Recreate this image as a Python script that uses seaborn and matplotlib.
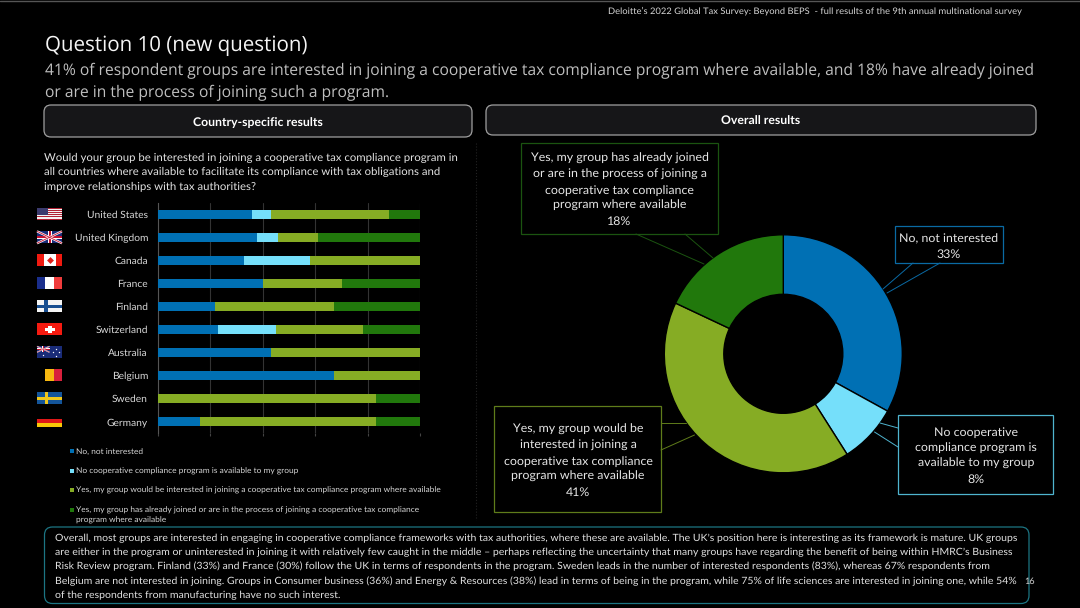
import matplotlib
matplotlib.use("Agg")
import matplotlib.pyplot as plt
from matplotlib.patches import FancyBboxPatch, Rectangle
import numpy as np
import seaborn as sns

countries = ["United States", "United Kingdom", "Canada", "France", "Finland",
             "Switzerland", "Australia", "Belgium", "Sweden", "Germany"]
not_interested = [36, 38, 33, 40, 22, 23, 43, 67, 0, 16]
no_program = [7, 8, 25, 0, 0, 22, 0, 0, 0, 0]
would_join = [45, 15, 42, 30, 45, 33, 57, 33, 83, 67]
already_joined = [12, 39, 0, 30, 33, 22, 0, 0, 17, 17]

overall_values = [33, 8, 41, 18]
series_colors = ["#0070B4", "#75DFFA", "#86AC24", "#21780C"]
legend_labels = [
    "No, not interested",
    "No cooperative compliance program is available to my group",
    "Yes, my group would be interested in joining a cooperative tax compliance program where available",
    "Yes, my group has already joined or are in the process of joining a cooperative tax compliance\nprogram where available",
]

body_lines = [
    "Overall, most groups are interested in engaging in cooperative compliance frameworks with tax authorities, where these are available. The UK\u2019s position here is interesting as its framework is mature. UK groups",
    "are either in the program or uninterested in joining it with relatively few caught in the middle \u2013 perhaps reflecting the uncertainty that many groups have regarding the benefit of being within HMRC\u2019s Business",
    "Risk Review program. Finland (33%) and France (30%) follow the UK in terms of respondents in the program. Sweden leads in the number of interested respondents (83%), whereas 67% respondents from",
    "Belgium are not interested in joining. Groups in Consumer business (36%) and Energy & Resources (38%) lead in terms of being in the program, while 75% of life sciences are interested in joining one, while 54%",
    "of the respondents from manufacturing have no such interest.",
]

W, H = 1080, 608
FONT = "Lato"

sns.set_theme(style="dark")
plt.rcParams["font.family"] = [FONT, "DejaVu Sans"]
# unhinted text, so widths follow the font size smoothly
plt.rcParams["text.hinting"] = "no_hinting"
fig = plt.figure(figsize=(W / 100, H / 100), dpi=100, facecolor="black")


def axes_px(x0, y0, x1, y1):
    return fig.add_axes([x0 / W, 1 - y1 / H, (x1 - x0) / W, (y1 - y0) / H])


# --- stacked bars ---
ax = axes_px(157.7, 203, 420.3, 433)
ax.set_facecolor("black")
left = np.zeros(len(countries))
for vals, col in zip([not_interested, no_program, would_join, already_joined], series_colors):
    sns.barplot(x=vals, y=countries, left=left, color=col, width=0.4, orient="h",
                saturation=1, linewidth=0, ax=ax, zorder=3)
    left = left + np.array(vals)
ax.set_xlim(0, 100)
ax.set_ylim(9.5, -0.5)
ax.set_xticks([0, 20, 40, 60, 80, 100])
ax.set_xticklabels([])
ax.set_xlabel("")
ax.set_ylabel("")
ax.grid(axis="x", color="#333333", lw=0.8, zorder=0)
ax.grid(axis="y", visible=False)
ax.tick_params(axis="x", length=2.5, width=0.8, color="#444444", bottom=True)
ax.tick_params(axis="y", length=0, pad=7, labelsize=7.35, labelcolor="#D8D8D8")
sns.despine(ax=ax, top=True, right=True, bottom=True)
ax.spines["left"].set_color("#555555")
ax.spines["left"].set_linewidth(0.8)

# --- donut ---
pie_ax = axes_px(783.3 - 119, 353.8 - 119, 783.3 + 119, 353.8 + 119)
pie_ax.pie(overall_values, colors=series_colors, startangle=90, counterclock=False, radius=1,
           wedgeprops=dict(width=0.5, edgecolor="black", linewidth=1))
pie_ax.set_xlim(-1, 1)
pie_ax.set_ylim(-1, 1)

# --- everything else in pixel coordinates ---
ov = fig.add_axes([0, 0, 1, 1], facecolor="none")
ov.set_xlim(0, W)
ov.set_ylim(H, 0)
ov.axis("off")


def txt(x, y, s, size, color="#E6E6E6", ha="left", va="center", **kw):
    ov.text(x, y, s, fontsize=size, color=color, ha=ha, va=va, **kw)


def rounded(x0, y0, x1, y1, r, fc, ec, lw=0.9):
    ov.add_patch(FancyBboxPatch((x0 + r, y0 + r), x1 - x0 - 2 * r, y1 - y0 - 2 * r,
                                boxstyle=f"round,pad={r},rounding_size={r}",
                                fc=fc, ec=ec, lw=lw))


ov.plot([0, W], [0.5, 0.5], color="#555555", lw=1)
txt(1022, 10.5, "Deloitte\u2019s 2022 Global Tax Survey: Beyond BEPS  - full results of the 9th annual multinational survey",
    6.72, ha="right", color="#D5D5D5")
txt(45, 46, "Question 10 (new question)", 14.8, color="#F5F5F5", family="Open Sans")
txt(45, 71, "41% of respondent groups are interested in joining a cooperative tax compliance program where available, and 18% have already joined",
    11.29, color="#BFBFBF", family="Open Sans")
txt(45, 92.5, "or are in the process of joining such a program.", 11.29, color="#BFBFBF", family="Open Sans")

rounded(44, 105, 472, 137, 7, "#161618", "#A0A0A0")
rounded(486, 105, 1036, 135, 7, "#161618", "#A0A0A0")
txt(258, 122.5, "Country-specific results", 8.85, color="white", ha="center", fontweight="bold")
txt(761, 121.5, "Overall results", 8.85, color="white", ha="center", fontweight="bold")

for y, s in zip([157.5, 172, 186.5], [
    "Would your group be interested in joining a cooperative tax compliance program in",
    "all countries where available to facilitate its compliance with tax obligations and",
    "improve relationships with tax authorities?",
]):
    txt(44, y, s, 8.22, color="#E2E2E2")

ov.plot([476, 476], [143, 520], color="#222222", lw=0.8, ls=":")

# legend
for y, col, lab in zip([451, 470.7, 490.3, 510], series_colors, legend_labels):
    ov.add_patch(Rectangle((70, y - 2.2), 4.3, 4.3, fc=col, ec="none"))
    ov.text(76.5, y - 3.3, lab, fontsize=6.05, color="#D5D5D5", ha="left", va="top", linespacing=1.4)


# flags
def flag(row, name):
    x, y0, w, h = 37, 214.3 + 23 * row - 6, 25, 12

    def r(a, b, c, d, col):
        ov.add_patch(Rectangle((x + a * w, y0 + b * h), c * w, d * h, fc=col, ec="none"))

    if name == "us":
        r(0, 0, 1, 1, "#F4F4F4")
        for i in range(0, 7):
            r(0, i * 2 / 13, 1, 1 / 13, "#B22234")
        r(0, 0, .42, 7 / 13, "#3C3B6E")
    elif name in ("uk", "au"):
        r(0, 0, 1, 1, "#1A2C78")
        fx, fy, fw, fh = (0, 0, 1, 1) if name == "uk" else (0, 0, .5, .5)
        px = lambda a: x + (fx + a * fw) * w
        py = lambda b: y0 + (fy + b * fh) * h
        ov.plot([px(0), px(1)], [py(0), py(1)], color="white", lw=1.6 * fw, solid_capstyle="butt")
        ov.plot([px(0), px(1)], [py(1), py(0)], color="white", lw=1.6 * fw, solid_capstyle="butt")
        ov.plot([px(0), px(1)], [py(0), py(1)], color="#C8102E", lw=.6 * fw, solid_capstyle="butt")
        ov.plot([px(0), px(1)], [py(1), py(0)], color="#C8102E", lw=.6 * fw, solid_capstyle="butt")
        r(fx, fy + .35 * fh, fw, .3 * fh, "white")
        r(fx + .42 * fw, fy, .16 * fw, fh, "white")
        r(fx, fy + .42 * fh, fw, .16 * fh, "#C8102E")
        r(fx + .46 * fw, fy, .08 * fw, fh, "#C8102E")
        if name == "au":
            for a, b in [(.25, .75), (.75, .2), (.88, .45), (.65, .5), (.75, .82)]:
                ov.plot(x + a * w, y0 + b * h, "o", ms=1, color="white", mew=0)
    elif name == "ca":
        r(0, 0, 1, 1, "white")
        r(0, 0, .26, 1, "#F01A10")
        r(.74, 0, .26, 1, "#F01A10")
        ov.plot(x + .5 * w, y0 + .5 * h, "D", ms=3.5, color="#E0201A", mew=0)
    elif name == "fr":
        r(0, 0, 1 / 3, 1, "#1A2E8C")
        r(1 / 3, 0, 1 / 3, 1, "white")
        r(2 / 3, 0, 1 / 3, 1, "#F03C3C")
    elif name == "fi":
        r(0, 0, 1, 1, "#F4F4F4")
        r(0, .36, 1, .28, "#184E90")
        r(.28, 0, .16, 1, "#184E90")
    elif name == "ch":
        r(0, 0, 1, 1, "#F51A10")
        r(.3, .42, .4, .18, "white")
        r(.42, .2, .16, .6, "white")
    elif name == "be":
        r(.33, 0, .34, 1, "#F8B810")
        r(.67, 0, .33, 1, "#D8203C")
    elif name == "se":
        r(0, 0, 1, 1, "#14559A")
        r(0, .38, 1, .24, "#F0C81C")
        r(.3, 0, .14, 1, "#F0C81C")
    elif name == "de":
        r(0, 1 / 3, 1, 1 / 3, "#E01818")
        r(0, 2 / 3, 1, 1 / 3, "#F8C808")


for i, n in enumerate(["us", "uk", "ca", "fr", "fi", "ch", "au", "be", "se", "de"]):
    flag(i, n)


# callouts
def callout(x0, y0, x1, y1, ec, s, cx, cy, leaders):
    ov.add_patch(Rectangle((x0, y0), x1 - x0, y1 - y0, fc="none", ec=ec, lw=0.9))
    for (a, b), (c, d) in leaders:
        ov.plot([a, c], [b, d], color=ec, lw=0.7)
    ov.text(cx, cy, s, fontsize=8.95, color="#E6E6E6", ha="center", va="center",
            linespacing=1.53, multialignment="center")


callout(521, 143, 718, 234, "#1B5410",
        "Yes, my group has already joined\nor are in the process of joining a\ncooperative tax compliance\nprogram where available\n18%",
        619.5, 190, [((636, 234), (704, 264)), ((685, 234), (713, 258))])
callout(895, 226, 1003, 263, "#0A6AA4", "No, not interested\n33%", 949, 246.5,
        [((913, 263), (883, 289)), ((940, 263), (887, 293))])
callout(898, 415, 1053, 494, "#4FB4CF",
        "No cooperative\ncompliance program is\navailable to my group\n8%",
        976, 456, [((898, 428), (880, 423)), ((898, 447), (874.5, 432))])
callout(494, 406, 661, 512, "#5F7C1A",
        "Yes, my group would be\ninterested in joining a\ncooperative tax compliance\nprogram where available\n41%",
        578, 461, [((661, 423), (685.5, 423)), ((661, 450), (694.5, 435))])

# commentary box
rounded(44.5, 527, 1029, 603.5, 8, "black", "#1C7583")
for i, s in enumerate(body_lines):
    txt(55, 538 + i * 14.3, s, 7.54, color="#E2E2E2")
txt(1030, 581.5, "16", 6.6, color="#D5D5D5", ha="center")

fig.savefig("out.png", dpi=100, facecolor="black")
